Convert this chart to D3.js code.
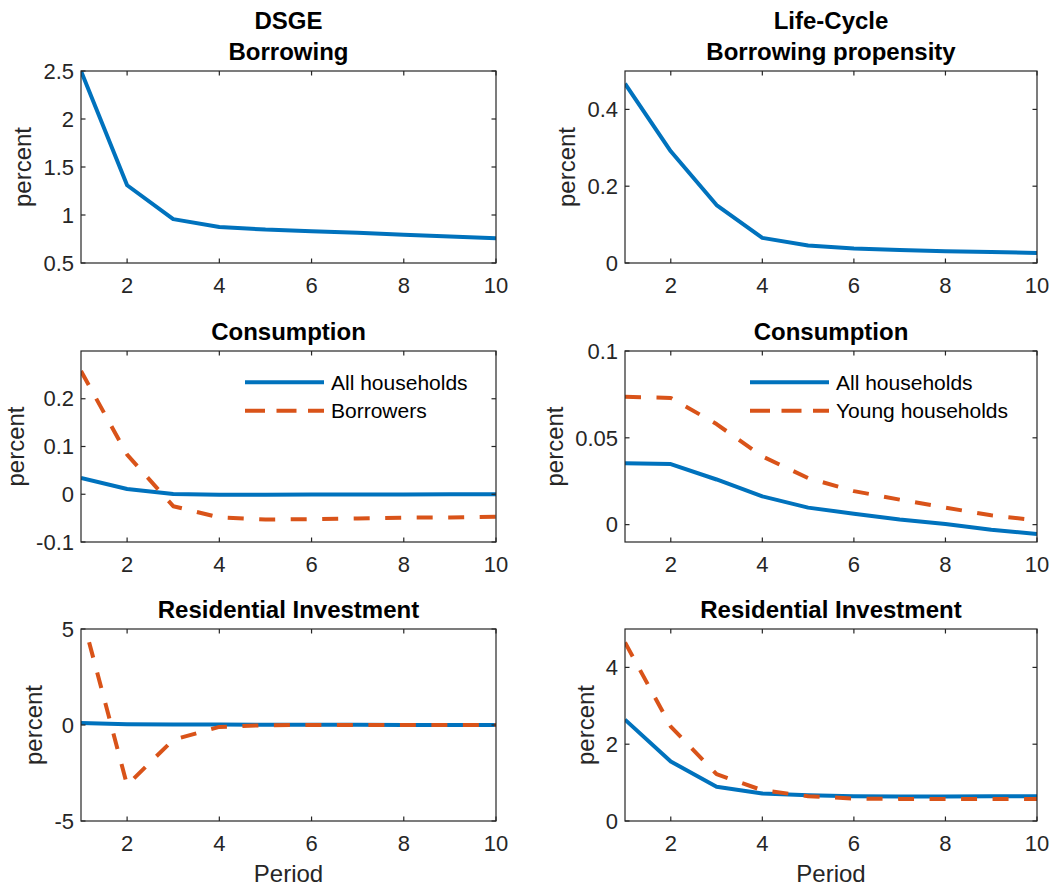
<!DOCTYPE html>
<html>
<head>
<meta charset="utf-8">
<script src="https://cdn.jsdelivr.net/npm/d3@7"></script>
<style>
  body { margin: 0; background: #fff; }
  text { font-family: "Liberation Sans", Arial, Helvetica, sans-serif; }
</style>
</head>
<body>
<svg id="chart" width="1056" height="890"></svg>
<script>
// periods on the x axis
const periods = [1, 2, 3, 4, 5, 6, 7, 8, 9, 10];
const xTicks = [2, 4, 6, 8, 10];

// DSGE column
const dsgeBorrowing = [2.5, 1.31, 0.957, 0.876, 0.848, 0.831, 0.814, 0.793, 0.775, 0.758];
const dsgeConsAll = [0.034, 0.011, 0.0005, -0.0012, -0.001, -0.0007, -0.0005, -0.0003, -0.0001, 0];
const dsgeConsBorrowers = [0.258, 0.083, -0.025, -0.0486, -0.053, -0.052, -0.0507, -0.049, -0.0486, -0.047];
const dsgeResAll = [0.1, 0.04, 0.03, 0.02, 0.015, 0.01, 0.01, 0.005, 0.005, 0];
const dsgeResBorrowers = [5.9, -3.13, -0.77, -0.1, -0.01, 0, 0, 0, 0, 0];

// Life-cycle column
const lcBorrowing = [0.467, 0.291, 0.151, 0.0655, 0.0454, 0.0376, 0.034, 0.0306, 0.0288, 0.026];
const lcConsAll = [0.0354, 0.0349, 0.026, 0.0163, 0.0098, 0.0063, 0.003, 0.0004, -0.0029, -0.0054];
const lcConsYoung = [0.0736, 0.073, 0.0579, 0.0393, 0.0268, 0.0193, 0.0144, 0.0098, 0.0054, 0.0025];
const lcResAll = [2.64, 1.55, 0.89, 0.716, 0.67, 0.646, 0.64, 0.64, 0.646, 0.646];
const lcResYoung = [4.65, 2.46, 1.22, 0.8, 0.646, 0.585, 0.576, 0.57, 0.57, 0.57];

// tick labels
const ticksBorrowingDsge = [0.5, 1, 1.5, 2, 2.5];
const ticksBorrowingLc = [0, 0.2, 0.4];
const ticksConsDsge = [-0.1, 0, 0.1, 0.2];
const ticksConsLc = [0, 0.05, 0.1];
const ticksResDsge = [-5, 0, 5];
const ticksResLc = [0, 2, 4];

const blue = "#0072BD",
      orange = "#D95319",
      axisColor = "#262626";

const cols = [[81, 496], [625, 1037]],
      rows = [[71, 263], [351, 542], [629, 821]];

const panels = [
  {col: 0, row: 0, title: ["DSGE", "Borrowing"], domain: [0.5, 2.5], ticks: ticksBorrowingDsge,
   series: [{values: dsgeBorrowing, color: blue}]},
  {col: 1, row: 0, title: ["Life-Cycle", "Borrowing propensity"], domain: [0, 0.5], ticks: ticksBorrowingLc,
   series: [{values: lcBorrowing, color: blue}]},
  {col: 0, row: 1, title: ["Consumption"], domain: [-0.1, 0.3], ticks: ticksConsDsge,
   series: [{values: dsgeConsAll, color: blue, name: "All households"},
            {values: dsgeConsBorrowers, color: orange, dashed: true, name: "Borrowers"}],
   legendX: 245},
  {col: 1, row: 1, title: ["Consumption"], domain: [-0.01, 0.1], ticks: ticksConsLc,
   series: [{values: lcConsAll, color: blue, name: "All households"},
            {values: lcConsYoung, color: orange, dashed: true, name: "Young households"}],
   legendX: 750},
  {col: 0, row: 2, title: ["Residential Investment"], domain: [-5, 5], ticks: ticksResDsge,
   series: [{values: dsgeResAll, color: blue}, {values: dsgeResBorrowers, color: orange, dashed: true}],
   xLabel: "Period"},
  {col: 1, row: 2, title: ["Residential Investment"], domain: [0, 5], ticks: ticksResLc,
   series: [{values: lcResAll, color: blue}, {values: lcResYoung, color: orange, dashed: true}],
   xLabel: "Period"}
];

const svg = d3.select("#chart");
const fmt = d => String(d);

panels.forEach((p, k) => {
  const [x0, x1] = cols[p.col],
        [y0, y1] = rows[p.row];

  const x = d3.scaleLinear().domain([1, 10]).range([x0, x1]);
  const y = d3.scaleLinear().domain(p.domain).range([y1, y0]);

  const g = svg.append("g");

  g.append("clipPath").attr("id", `clip${k}`)
    .append("rect").attr("x", x0).attr("y", y0).attr("width", x1 - x0).attr("height", y1 - y0);

  // lines
  const line = d3.line().x((d, i) => x(periods[i])).y(d => y(d));
  p.series.forEach(s => {
    g.append("path")
      .attr("clip-path", `url(#clip${k})`)
      .attr("d", line(s.values))
      .attr("fill", "none")
      .attr("stroke", s.color)
      .attr("stroke-width", 4)
      .attr("stroke-linejoin", "round")
      .attr("stroke-dasharray", s.dashed ? "16,15.5" : null);
  });

  // box with inward ticks on all four sides
  const tl = 4.5;
  g.append("rect")
    .attr("x", x0).attr("y", y0).attr("width", x1 - x0).attr("height", y1 - y0)
    .attr("fill", "none").attr("stroke", axisColor).attr("stroke-width", 1.2);

  xTicks.forEach(t => {
    const xx = x(t);
    g.append("line").attr("x1", xx).attr("x2", xx).attr("y1", y1).attr("y2", y1 - tl)
      .attr("stroke", axisColor).attr("stroke-width", 1.2);
    g.append("line").attr("x1", xx).attr("x2", xx).attr("y1", y0).attr("y2", y0 + tl)
      .attr("stroke", axisColor).attr("stroke-width", 1.2);
    g.append("text").attr("x", xx).attr("y", y1 + 30)
      .attr("text-anchor", "middle").attr("font-size", 22).attr("fill", axisColor)
      .text(fmt(t));
  });

  let minLeft = x0;
  p.ticks.forEach(t => {
    const yy = y(t);
    g.append("line").attr("x1", x0).attr("x2", x0 + tl).attr("y1", yy).attr("y2", yy)
      .attr("stroke", axisColor).attr("stroke-width", 1.2);
    g.append("line").attr("x1", x1).attr("x2", x1 - tl).attr("y1", yy).attr("y2", yy)
      .attr("stroke", axisColor).attr("stroke-width", 1.2);
    const lbl = g.append("text").attr("x", x0 - 7).attr("y", yy).attr("dy", "0.35em")
      .attr("text-anchor", "end").attr("font-size", 22).attr("fill", axisColor)
      .text(fmt(t));
    minLeft = Math.min(minLeft, x0 - 7 - lbl.node().getComputedTextLength());
  });

  // y label
  const lx = minLeft - 12, ly = (y0 + y1) / 2;
  g.append("text")
    .attr("transform", `translate(${lx},${ly}) rotate(-90)`)
    .attr("text-anchor", "middle").attr("font-size", 24).attr("fill", axisColor)
    .text("percent");

  // title
  const cx = (x0 + x1) / 2;
  p.title.forEach((t, i) => {
    g.append("text")
      .attr("x", cx).attr("y", y0 - 11 - (p.title.length - 1 - i) * 30.7)
      .attr("text-anchor", "middle").attr("font-size", 24).attr("font-weight", "bold")
      .attr("fill", "#000").text(t);
  });

  if (p.xLabel) {
    g.append("text").attr("x", cx).attr("y", y1 + 61)
      .attr("text-anchor", "middle").attr("font-size", 24).attr("fill", axisColor)
      .text(p.xLabel);
  }

  // legend
  if (p.legendX) {
    p.series.forEach((s, i) => {
      const ly2 = 382.3 + i * 28.4;
      g.append("line")
        .attr("x1", p.legendX).attr("x2", p.legendX + 79)
        .attr("y1", ly2).attr("y2", ly2)
        .attr("stroke", s.color).attr("stroke-width", 4)
        .attr("stroke-dasharray", s.dashed ? "20,11.5" : null);
      g.append("text")
        .attr("x", p.legendX + 86).attr("y", ly2).attr("dy", "0.35em")
        .attr("font-size", 21).attr("fill", "#000")
        .text(s.name);
    });
  }
});
</script>
</body>
</html>
